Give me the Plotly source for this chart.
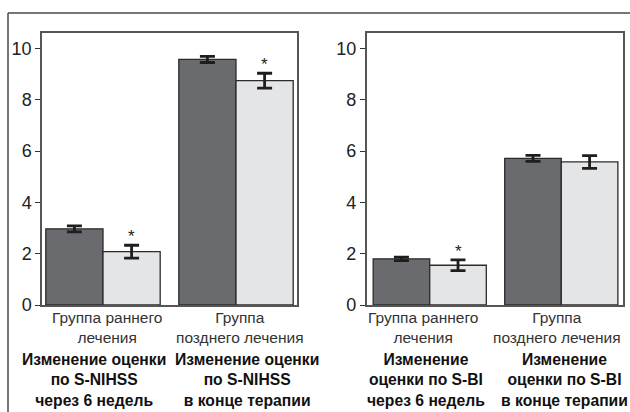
import plotly.graph_objects as go

# ---- data ----
groups = ["Группа раннего лечения", "Группа позднего лечения"]
group_labels = ["Группа раннего<br>лечения", "Группа<br>позднего лечения"]
nihss_titles = ["Изменение оценки<br>по S-NIHSS<br>через 6 недель",
                "Изменение оценки<br>по S-NIHSS<br>в конце терапии"]
bi_titles = ["Изменение<br>оценки по S-BI<br>через 6 недель",
             "Изменение<br>оценки по S-BI<br>в конце терапии"]

nihss_dark = [2.97, 9.58]
nihss_dark_err = [0.12, 0.12]
nihss_light = [2.08, 8.75]
nihss_light_err = [0.25, 0.29]
nihss_sig = [True, True]

bi_dark = [1.80, 5.72]
bi_dark_err = [0.07, 0.12]
bi_light = [1.55, 5.58]
bi_light_err = [0.21, 0.25]
bi_sig = [True, False]

y_ticks = [0, 2, 4, 6, 8, 10]

DARK = "#6a6b6e"
LIGHT = "#e4e5e7"
EDGE = "#2b2b2b"
BARGAP = 0.14
FONT = "Liberation Sans, Arial, Helvetica, sans-serif"

W, H = 630, 412
fig = go.Figure()


def add_bars(vals, errs, color, xa, ya):
    fig.add_trace(go.Bar(
        x=groups, y=vals, xaxis=xa, yaxis=ya,
        marker=dict(color=color, line=dict(color=EDGE, width=1.3)),
        error_y=dict(type="data", array=errs, visible=True,
                     color="#1e1e1e", thickness=2.8, width=7.5),
        showlegend=False, hoverinfo="skip"))


add_bars(nihss_dark, nihss_dark_err, DARK, "x", "y")
add_bars(nihss_light, nihss_light_err, LIGHT, "x", "y")
add_bars(bi_dark, bi_dark_err, DARK, "x2", "y2")
add_bars(bi_light, bi_light_err, LIGHT, "x2", "y2")

ydom = [(H - 305) / H, (H - 33) / H]
axis_line = dict(showline=True, linecolor="#555555", linewidth=1.5, mirror=True,
                 showgrid=False, zeroline=False, automargin=False)
yaxis_common = dict(range=[0, 10.61], tickvals=y_ticks, ticks="outside", ticklen=5,
                    tickwidth=1.3, tickcolor="#333333",
                    tickfont=dict(family=FONT, size=18, color="#222222"),
                    domain=ydom, **axis_line)

fig.update_layout(
    width=W, height=H, margin=dict(l=0, r=0, t=0, b=0, pad=0, autoexpand=False),
    paper_bgcolor="white", plot_bgcolor="white",
    barmode="group", bargap=BARGAP, bargroupgap=0,
    xaxis=dict(domain=[42 / W, 297 / W], range=[-0.4586, 1.4586], type="category",
               showticklabels=False, ticks="", anchor="y", **axis_line),
    yaxis=dict(anchor="x", **yaxis_common),
    xaxis2=dict(domain=[366.7 / W, 623 / W], range=[-0.479, 1.469], type="category",
                showticklabels=False, ticks="", anchor="y2", **axis_line),
    yaxis2=dict(anchor="x2", **yaxis_common),
)

annotations = []
off = (1 - BARGAP) / 4

# significance asterisks
for xr, yr, vals, errs, sig in [("x", "y", nihss_light, nihss_light_err, nihss_sig),
                                ("x2", "y2", bi_light, bi_light_err, bi_sig)]:
    for i, s in enumerate(sig):
        if s:
            annotations.append(dict(x=i + off, y=vals[i] + errs[i], xref=xr, yref=yr,
                                    text="*", showarrow=False, yanchor="bottom",
                                    yshift=-3,
                                    font=dict(family=FONT, size=17, color="#222222")))

# category labels
label_top = (H - 307) / H
title_top = (H - 349) / H
shifts = {"x": ([4, 4], [-9, 11]), "x2": ([-7, -4], [-4, 3])}
for xr, titles in [("x", nihss_titles), ("x2", bi_titles)]:
    nshift, bshift = shifts[xr]
    for i in range(len(groups)):
        annotations.append(dict(x=i, y=label_top, xref=xr, yref="paper",
                                text=group_labels[i], showarrow=False,
                                yanchor="top", xanchor="center", align="center",
                                xshift=nshift[i],
                                font=dict(family=FONT, size=15.5, color="#333333")))
        annotations.append(dict(x=i, y=title_top, xref=xr, yref="paper",
                                text="<b>" + titles[i] + "</b>", showarrow=False,
                                yanchor="top", xanchor="center", align="center",
                                xshift=bshift[i],
                                font=dict(family=FONT, size=15.7, color="#111111")))

fig.update_layout(annotations=annotations)

# outer frame lines
fig.update_layout(shapes=[
    dict(type="line", xref="paper", yref="paper", x0=8 / W, x1=1.0,
         y0=(H - 13) / H, y1=(H - 13) / H, line=dict(color="#4a4a4a", width=1.5)),
    dict(type="line", xref="paper", yref="paper", x0=8 / W, x1=8 / W,
         y0=0, y1=(H - 13) / H, line=dict(color="#4a4a4a", width=1.5)),
])

fig.write_html("out.html", config={"displayModeBar": False},
               post_script="document.body.style.margin='0';document.body.style.overflow='hidden';")
